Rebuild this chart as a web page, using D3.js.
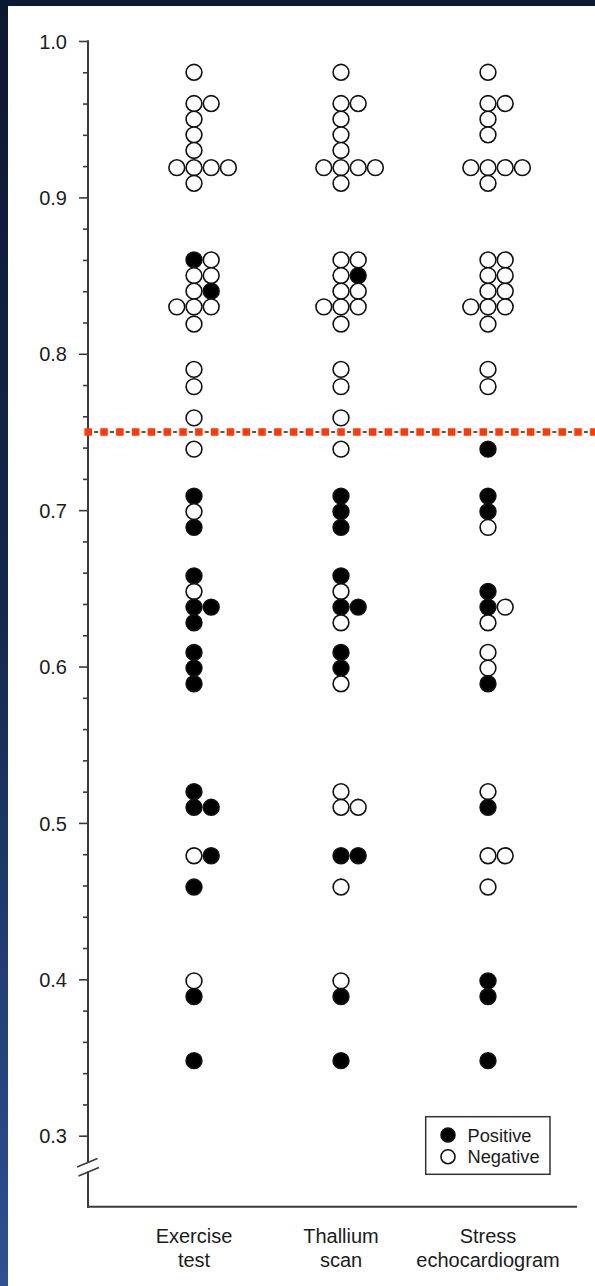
<!DOCTYPE html>
<html><head><meta charset="utf-8">
<script src="https://cdn.jsdelivr.net/npm/d3@7"></script>
<style>html,body{margin:0;padding:0;background:#fff;} svg{display:block;}</style>
</head><body>
<svg id="chart" width="595" height="1286"></svg>
<script>
// ---------- DATA ----------
const categories = ["Exercise test", "Thallium scan", "Stress echocardiogram"];
const categoryLabelLines = [["Exercise", "test"], ["Thallium", "scan"], ["Stress", "echocardiogram"]];
// [value, result]  result: 1 = positive, 0 = negative (left-to-right order within equal values)
const exerciseTest = [
  [0.98,0],[0.96,0],[0.96,0],[0.95,0],[0.94,0],[0.93,0],
  [0.919,0],[0.919,0],[0.919,0],[0.919,0],[0.909,0],
  [0.86,1],[0.86,0],[0.85,0],[0.85,0],[0.84,0],[0.84,1],
  [0.83,0],[0.83,0],[0.83,0],[0.819,0],
  [0.79,0],[0.779,0],[0.759,0],[0.739,0],
  [0.709,1],[0.699,0],[0.689,1],
  [0.658,1],[0.648,0],[0.638,1],[0.638,1],[0.628,1],
  [0.609,1],[0.599,1],[0.589,1],
  [0.52,1],[0.51,1],[0.51,1],[0.479,0],[0.479,1],[0.459,1],
  [0.399,0],[0.389,1],[0.348,1]
];
const thalliumScan = [
  [0.98,0],[0.96,0],[0.96,0],[0.95,0],[0.94,0],[0.93,0],
  [0.919,0],[0.919,0],[0.919,0],[0.919,0],[0.909,0],
  [0.86,0],[0.86,0],[0.85,0],[0.85,1],[0.84,0],[0.84,0],
  [0.83,0],[0.83,0],[0.83,0],[0.819,0],
  [0.79,0],[0.779,0],[0.759,0],[0.739,0],
  [0.709,1],[0.699,1],[0.689,1],
  [0.658,1],[0.648,0],[0.638,1],[0.638,1],[0.628,0],
  [0.609,1],[0.599,1],[0.589,0],
  [0.52,0],[0.51,0],[0.51,0],[0.479,1],[0.479,1],[0.459,0],
  [0.399,0],[0.389,1],[0.348,1]
];
const stressEcho = [
  [0.98,0],[0.96,0],[0.96,0],[0.95,0],[0.94,0],
  [0.919,0],[0.919,0],[0.919,0],[0.919,0],[0.909,0],
  [0.86,0],[0.86,0],[0.85,0],[0.85,0],[0.84,0],[0.84,0],
  [0.83,0],[0.83,0],[0.83,0],[0.819,0],
  [0.79,0],[0.779,0],
  [0.739,1],
  [0.709,1],[0.699,1],[0.689,0],
  [0.648,1],[0.638,1],[0.638,0],[0.628,0],
  [0.609,0],[0.599,0],[0.589,1],
  [0.52,0],[0.51,1],[0.479,0],[0.479,0],[0.459,0],
  [0.399,1],[0.389,1],[0.348,1]
];
const seriesByCategory = [exerciseTest, thalliumScan, stressEcho];
const majorTicks = [0.3, 0.4, 0.5, 0.6, 0.7, 0.8, 0.9, 1.0];
const tickLabels = ["0.3", "0.4", "0.5", "0.6", "0.7", "0.8", "0.9", "1.0"];
const minorStep = 0.02;
const cutoffValue = 0.75;
const axisBreakValue = 0.28;
const axisBottomValue = 0.2545;
const legendItems = [["Positive", 1], ["Negative", 0]];

// ---------- LAYOUT ----------
const W = 595, H = 1286;
const font = "'Liberation Sans', Arial, Helvetica, sans-serif";
const ink = "#1c1c1c";
const axisColor = "#3a3a3a";
const svg = d3.select("#chart");

// frame
const defs = svg.append("defs");
const g1 = defs.append("linearGradient").attr("id", "leftGrad").attr("x1", 0).attr("y1", 0).attr("x2", 0).attr("y2", 1);
g1.append("stop").attr("offset", "0%").attr("stop-color", "#0b1832");
g1.append("stop").attr("offset", "45%").attr("stop-color", "#13264b");
g1.append("stop").attr("offset", "100%").attr("stop-color", "#2d5193");
svg.append("rect").attr("width", W).attr("height", H).attr("fill", "#0c1a34");
svg.append("rect").attr("x", 0).attr("y", 0).attr("width", 8).attr("height", H).attr("fill", "url(#leftGrad)");
svg.append("rect").attr("x", 8).attr("y", 6).attr("width", W - 8).attr("height", H - 6).attr("fill", "#ffffff");

const y = d3.scaleLinear().domain([0.3, 1.0]).range([1135.7, 41]);
const x = d3.scalePoint().domain(categories).range([194, 488]);
const axisX = 88;
const dotStep = 17.2, dotR = 7.9;

// y axis ticks (major + minor), domain path removed; line drawn with break
const minorTicks = d3.range(Math.round(0.3 / minorStep), Math.round(1.0 / minorStep) + 1)
  .map(i => +(i * minorStep).toFixed(2))
  .filter(v => !majorTicks.some(m => Math.abs(m - v) < 1e-6));

const gMinor = svg.append("g").attr("transform", `translate(${axisX},0)`)
  .call(d3.axisLeft(y).tickValues(minorTicks).tickSize(5).tickFormat(""));
gMinor.select(".domain").remove();
gMinor.selectAll("line").attr("stroke", axisColor).attr("stroke-width", 1.6);

const gMajor = svg.append("g").attr("transform", `translate(${axisX},0)`)
  .call(d3.axisLeft(y).tickValues(majorTicks).tickSize(9).tickPadding(12)
    .tickFormat((d, i) => tickLabels[i]));
gMajor.select(".domain").remove();
gMajor.selectAll("line").attr("stroke", axisColor).attr("stroke-width", 1.6);
gMajor.selectAll("text").attr("font-family", font).attr("font-size", 20).attr("fill", ink)
  .attr("dy", "0.36em");

// axis line with break
const yb = y(axisBreakValue);
const axisG = svg.append("g").attr("stroke", axisColor).attr("stroke-width", 2).attr("fill", "none");
axisG.append("line").attr("x1", axisX).attr("x2", axisX).attr("y1", y(1.0) - 0.8).attr("y2", yb - 4.5);
axisG.append("line").attr("x1", axisX).attr("x2", axisX).attr("y1", yb + 4.5).attr("y2", y(axisBottomValue) + 1);
axisG.append("line").attr("x1", axisX - 11).attr("y1", yb + 0).attr("x2", axisX + 9.5).attr("y2", yb - 8.5).attr("stroke-width", 1.6);
axisG.append("line").attr("x1", axisX - 9.5).attr("y1", yb + 9).attr("x2", axisX + 11).attr("y2", yb + 0.5).attr("stroke-width", 1.6);
// x axis
axisG.append("line").attr("x1", axisX - 1).attr("x2", 577).attr("y1", y(axisBottomValue)).attr("y2", y(axisBottomValue));

// category labels
categories.forEach((c, i) => {
  const t = svg.append("text").attr("x", x(c)).attr("y", 1243).attr("text-anchor", "middle")
    .attr("font-family", font).attr("font-size", 20).attr("fill", ink);
  categoryLabelLines[i].forEach((line, j) => {
    t.append("tspan").attr("x", x(c)).attr("dy", j === 0 ? 0 : 24).text(line);
  });
});

// dots
const dots = [];
seriesByCategory.forEach((series, ci) => {
  const groups = d3.groups(series, d => d[0]);
  groups.forEach(([v, items]) => {
    const n = items.length;
    const base = Math.floor((n - 1) / 2);
    items.forEach((d, k) => dots.push({ cat: categories[ci], v: d[0], pos: d[1], off: k - base }));
  });
});
svg.append("g").selectAll("circle").data(dots).join("circle")
  .attr("cx", d => x(d.cat) + d.off * dotStep)
  .attr("cy", d => y(d.v))
  .attr("r", dotR)
  .attr("fill", d => d.pos ? "#000" : "#fff")
  .attr("stroke", "#111")
  .attr("stroke-width", 1.6);

// cutoff line
const yc = y(cutoffValue);
svg.append("line").attr("x1", axisX - 3.5).attr("x2", W).attr("y1", yc).attr("y2", yc)
  .attr("stroke", "#222").attr("stroke-width", 1.5).attr("stroke-dasharray", "0 9.6 4 2.2");
svg.append("line").attr("x1", axisX - 3.5).attr("x2", W).attr("y1", yc).attr("y2", yc)
  .attr("stroke", "#ff3a06").attr("stroke-width", 7.5).attr("stroke-dasharray", "7.5 8.3");

// legend
const lg = svg.append("g");
lg.append("rect").attr("x", 425.7).attr("y", 1116.7).attr("width", 124.3).attr("height", 57.6)
  .attr("fill", "#fff").attr("stroke", "#333").attr("stroke-width", 1.5);
legendItems.forEach(([label, pos], i) => {
  const cy = 1135 + i * 21.7;
  lg.append("circle").attr("cx", 448).attr("cy", cy).attr("r", 7)
    .attr("fill", pos ? "#000" : "#fff").attr("stroke", "#111").attr("stroke-width", 1.6);
  lg.append("text").attr("x", 467.5).attr("y", cy + 6.6).attr("font-family", font)
    .attr("font-size", 18.3).attr("fill", ink).text(label);
});
</script>
</body></html>
